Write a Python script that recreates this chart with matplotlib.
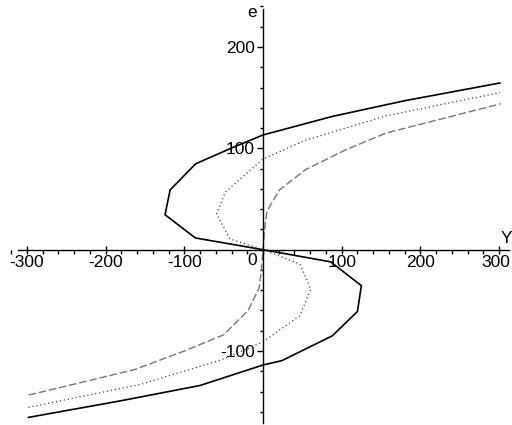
import matplotlib
matplotlib.use("Agg")
import matplotlib.pyplot as plt
from matplotlib.ticker import MultipleLocator
from matplotlib.transforms import ScaledTranslation

# ---- data (Y, e) ----
solid_Y = [-298, -180, -80, 0, 24, 88, 120, 125, 86, 0, -86, -124.5, -118, -85.5, -38, 0, 88, 180, 301]
solid_e = [-165.5, -149, -134, -113.8, -109.5, -85, -61, -35.5, -12, 0, 11.6, 34.5, 59, 84.8, 101, 113.2, 131.5, 147, 164.5]

dot_Y = [-298, -156, -54, 0, 47, 60.6, 47, 0, -42, -59, -48, 0, 54, 156, 301]
dot_e = [-155.6, -133, -109, -91, -65, -39, -14.2, 0, 10.6, 35.3, 56.7, 89.5, 108, 132, 155]

dash_Y = [-298, -164, -100, -50, -19, -5, -2, 0, 2, 5, 21, 54, 105, 156, 302]
dash_e = [-143.5, -118.5, -100, -84, -60, -38, -20, 0, 20, 38, 59, 79, 98.5, 115, 144]

x_ticks = [-300, -200, -100, 100, 200, 300]
x_labels = ["-300", "-200", "-100", "100", "200", "300"]
y_ticks = [-100, 100, 200]
y_labels = ["-100", "100", "200"]

FONT = ["Liberation Sans Narrow", "Liberation Sans", "DejaVu Sans"]
plt.rcParams["font.family"] = FONT

fig = plt.figure(figsize=(5.12, 4.25), dpi=100)
ax = fig.add_axes([0, 0, 1, 1])

ax.plot(solid_Y, solid_e, color="black", lw=1.2, solid_joinstyle="miter")
ax.plot(dot_Y, dot_e, color="#444444", lw=0.9, linestyle=(0, (1, 2.2)))
ax.plot(dash_Y, dash_e, color="#777777", lw=1.0, linestyle=(0, (5.5, 2)))

ax.set_xlim(-334.2, 316.4)
ax.set_ylim(-173, 246.4)

for s in ("top", "right"):
    ax.spines[s].set_visible(False)
ax.spines["left"].set_position(("data", 0))
ax.spines["bottom"].set_position(("data", 0))
ax.spines["left"].set_bounds(-171, 237.5)
ax.spines["bottom"].set_bounds(-311, 312.6)
ax.spines["left"].set_linewidth(1.0)
ax.spines["bottom"].set_linewidth(1.0)

ax.set_xticks(x_ticks)
ax.set_xticklabels(x_labels)
ax.set_yticks(y_ticks)
ax.set_yticklabels(y_labels)
ax.xaxis.set_minor_locator(MultipleLocator(20))
ax.yaxis.set_minor_locator(MultipleLocator(20))

ax.tick_params(axis="x", which="major", direction="inout", length=6, width=1, pad=1, labelsize=12.5)
ax.tick_params(axis="x", which="minor", direction="out", length=3, width=1)
ax.tick_params(axis="y", which="major", direction="out", length=4, width=1, pad=2, labelsize=12.5)
ax.tick_params(axis="y", which="minor", direction="out", length=2, width=1)

# nudge the last x label so it stays inside the figure
last = ax.get_xticklabels()[-1]
last.set_transform(last.get_transform() + ScaledTranslation(-2.5 / 72, 0, fig.dpi_scale_trans))

ax.text(-14, -3, "0", ha="center", va="top", fontsize=12.5)
ax.text(-14, 246.4 - 5, "e", ha="center", va="top", fontsize=12.5)
ax.text(309, 4, "Y", ha="center", va="bottom", fontsize=12.5)

fig.savefig("out.png", dpi=100)
